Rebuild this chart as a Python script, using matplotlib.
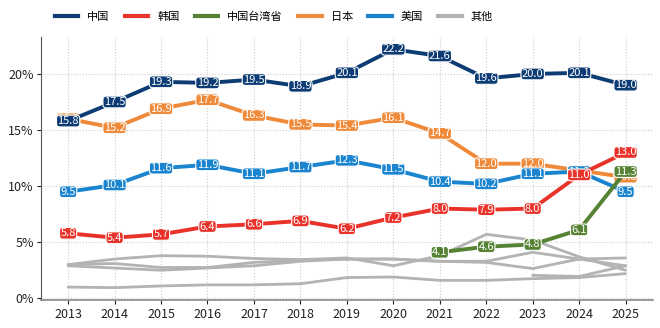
import numpy as np
import matplotlib
matplotlib.use("Agg")
from matplotlib import pyplot as plt
from matplotlib.lines import Line2D

plt.rcParams['font.family'] = ['Noto Sans CJK SC', 'DejaVu Sans']

years = list(range(2013, 2026))

china  = [15.8, 17.5, 19.3, 19.2, 19.5, 18.9, 20.1, 22.2, 21.6, 19.6, 20.0, 20.1, 19.0]
korea  = [5.8, 5.4, 5.7, 6.4, 6.6, 6.9, 6.2, 7.2, 8.0, 7.9, 8.0, 11.0, 13.0]
taiwan = [None, None, None, None, None, None, None, None, 4.1, 4.6, 4.8, 6.1, 11.3]
japan  = [16.0, 15.2, 16.9, 17.7, 16.3, 15.5, 15.4, 16.1, 14.7, 12.0, 12.0, 11.4, 10.8]
usa    = [9.5, 10.1, 11.6, 11.9, 11.1, 11.7, 12.3, 11.5, 10.4, 10.2, 11.1, 11.3, 9.5]

# "其他" - several unlabeled grey lines
others = [
    [3.0, 3.5, 3.8, 3.75, 3.55, 3.45, 3.6, 2.9, 3.8, 5.7, 5.2, 3.7, 2.5],
    [3.0, 3.1, 2.75, 2.75, 3.2, 3.4, 3.5, 3.5, 3.3, 3.3, 4.1, 3.5, 2.9],
    [2.9, 2.7, 2.5, 2.7, 2.9, 3.3, 3.5, 3.5, 3.3, 3.2, 2.65, 3.5, 3.6],
    [1.0, 0.95, 1.1, 1.2, 1.2, 1.3, 1.85, 1.9, 1.6, 1.6, 1.75, 1.85, 2.2],
    [None, None, None, None, None, None, None, None, None, None, 2.05, 1.95, 2.9],
]

names  = ['中国', '韩国', '中国台湾省', '日本', '美国', '其他']
colors = {'中国': '#0c3c73', '韩国': '#e8322a', '中国台湾省': '#558233',
          '日本': '#ef8a3a', '美国': '#1a84cf', '其他': '#b3b3b3'}

fig = plt.figure(figsize=(6.6, 3.28), dpi=100)
ax = fig.add_axes([0.0617, 0.0854, 0.927, 0.802])

for s in others:
    xs = [y for y, v in zip(years, s) if v is not None]
    vs = [v for v in s if v is not None]
    ax.plot(xs, vs, color=colors['其他'], lw=2.0, zorder=2, solid_capstyle='round')

series = [('日本', japan, 3), ('美国', usa, 4), ('韩国', korea, 5),
          ('中国台湾省', taiwan, 6), ('中国', china, 7)]
for name, s, z in series:
    xs = [y for y, v in zip(years, s) if v is not None]
    vs = [v for v in s if v is not None]
    c = colors[name]
    ax.plot(xs, vs, color=c, lw=2.8, zorder=z, solid_joinstyle='round')
    for x, v in zip(xs, vs):
        ax.text(x, v, f'{v:.1f}', ha='center', va='center', color='white',
                fontsize=8, zorder=z + 0.5,
                bbox=dict(boxstyle='round,pad=0.08,rounding_size=0.3',
                          fc=c, ec='white', lw=0.8))

ax.set_xlim(2012.41, 2025.58)
ax.set_ylim(-0.15, 23.3)
ax.set_xticks(years)
ax.set_yticks([0, 5, 10, 15, 20])
ax.set_yticklabels(['0%', '5%', '10%', '15%', '20%'])
ax.tick_params(axis='both', labelsize=9, colors='#222222', length=3, width=0.8)
ax.tick_params(axis='x', pad=3)
ax.tick_params(axis='y', pad=2)
ax.grid(True, color='#cccccc', linestyle=':', linewidth=0.8)
ax.set_axisbelow(True)
for sp in ['top', 'right']:
    ax.spines[sp].set_visible(False)
ax.spines['left'].set_color('#555555')
ax.spines['bottom'].set_color('#888888')
ax.spines['bottom'].set_linewidth(1.2)

handles = [Line2D([0], [0], color=colors[n], lw=3) for n in names]
fig.legend(handles, names, loc='center', bbox_to_anchor=(0.415, 0.948), ncol=6,
           frameon=False, fontsize=8, handlelength=2.1, columnspacing=1.4,
           handletextpad=0.8)

plt.savefig('out.png', dpi=100)
